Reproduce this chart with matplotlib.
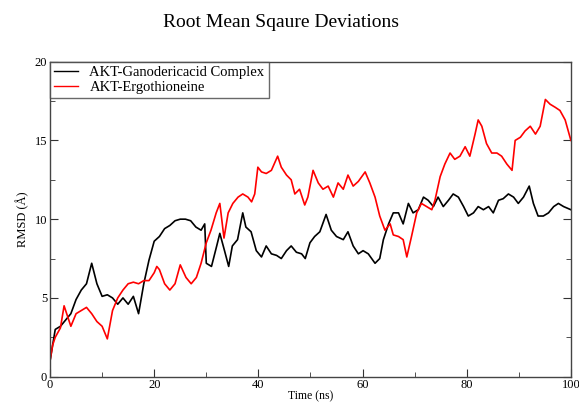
import numpy as np
import matplotlib
matplotlib.use("Agg")
import matplotlib.pyplot as plt
from matplotlib.ticker import MultipleLocator

# data
t_gano = [0, 0.5, 1, 2, 3, 4, 5, 6, 7, 8, 9, 10, 11, 12, 13, 14, 15, 16, 17, 18,
          19, 20, 21, 22, 23, 24, 25, 26, 27, 28, 29, 29.7, 30, 31, 32, 32.6, 33.5,
          34.3, 35, 36, 37, 37.6, 38.6, 39.6, 40.6, 41.5, 42.5, 43.5, 44.4, 45.4,
          46.3, 47.3, 48.3, 49, 49.9, 50.8, 51.8, 53, 54, 55, 56.3, 57.2, 58.2,
          59.2, 60.1, 61.1, 62.4, 63.3, 64, 65, 65.9, 66.9, 67.8, 68.8, 69.7, 70.7,
          71.7, 72.6, 73.6, 74.5, 75.5, 76.5, 77.4, 78.4, 79.4, 80.3, 81.3, 82.2,
          83.2, 84.2, 85.1, 86.1, 87, 88, 89, 89.9, 90.9, 92, 92.8, 93.7, 94.7,
          95.7, 96.7, 97.6, 98.6, 100]
rmsd_gano = [1.0, 2.0, 3.0, 3.2, 3.6, 4.0, 4.9, 5.5, 5.9, 7.2, 5.9, 5.1, 5.2, 5.0,
             4.6, 5.0, 4.6, 5.1, 4.0, 5.9, 7.4, 8.6, 8.9, 9.4, 9.6, 9.9, 10.0, 10.0,
             9.9, 9.5, 9.3, 9.7, 7.2, 7.0, 8.3, 9.1, 8.0, 7.0, 8.3, 8.7, 10.4, 9.5,
             9.2, 8.0, 7.6, 8.3, 7.8, 7.7, 7.5, 8.0, 8.3, 7.9, 7.8, 7.5, 8.5, 8.9,
             9.2, 10.3, 9.3, 8.9, 8.7, 9.2, 8.3, 7.8, 8.0, 7.8, 7.2, 7.5, 8.7, 9.7,
             10.4, 10.4, 9.7, 11.0, 10.4, 10.6, 11.4, 11.2, 10.8, 11.4, 10.8, 11.2,
             11.6, 11.4, 10.8, 10.2, 10.4, 10.8, 10.6, 10.8, 10.4, 11.2, 11.3, 11.6,
             11.4, 11.0, 11.4, 12.1, 11.0, 10.2, 10.2, 10.4, 10.8, 11.0, 10.8, 10.6]

t_ergo = [0, 0.5, 1, 2, 2.7, 3, 4, 5, 6, 7, 8, 9, 10, 11, 12, 13, 14, 15, 16, 17,
          18, 19, 20, 20.5, 21, 22, 23, 24, 25, 26.1, 27.1, 28.1, 29, 30, 30.9,
          31.9, 32.6, 33.4, 34.2, 35.1, 36.1, 37, 38, 38.7, 39.3, 39.9, 40.6,
          41.5, 42.5, 43.7, 44.4, 45.4, 46.3, 47, 47.9, 48.9, 49.5, 50.5, 51.5,
          52.4, 53.4, 54.4, 55.3, 56.3, 57.2, 58.2, 59.2, 60.5, 61.4, 62.4, 63.3,
          64.3, 65.3, 65.9, 66.9, 67.8, 68.5, 69.4, 70.4, 71.3, 72.3, 73.3, 73.9,
          74.9, 75.8, 76.8, 77.7, 78.7, 79.7, 80.6, 81.6, 82.2, 82.9, 83.8, 84.8,
          85.8, 86.7, 87.7, 88.7, 89.3, 90.3, 91.2, 92.2, 93.2, 94.1, 95.1, 96,
          97, 97.9, 98.9, 100]
rmsd_ergo = [1.0, 2.0, 2.5, 3.1, 4.5, 4.2, 3.2, 4.0, 4.2, 4.4, 4.0, 3.5, 3.2, 2.4,
             4.2, 5.0, 5.5, 5.9, 6.0, 5.9, 6.1, 6.1, 6.6, 7.0, 6.8, 5.9, 5.5, 5.9,
             7.1, 6.3, 5.9, 6.3, 7.2, 8.5, 9.3, 10.4, 11.0, 8.8, 10.4, 11.0, 11.4,
             11.6, 11.4, 11.1, 11.6, 13.3, 13.0, 12.9, 13.1, 14.0, 13.3, 12.8, 12.5,
             11.6, 11.9, 10.9, 11.4, 13.1, 12.3, 11.9, 12.1, 11.4, 12.3, 11.9, 12.8,
             12.1, 12.4, 13.0, 12.3, 11.4, 10.2, 9.3, 9.7, 9.0, 8.9, 8.7, 7.6, 8.9,
             10.4, 11.0, 10.8, 10.6, 11.2, 12.7, 13.5, 14.2, 13.8, 14.0, 14.6, 14.0,
             15.4, 16.3, 15.9, 14.8, 14.2, 14.2, 14.0, 13.5, 13.1, 15.0, 15.2, 15.6,
             15.9, 15.4, 15.9, 17.6, 17.3, 17.1, 16.9, 16.3, 15.0]

labels = ["AKT-Ganodericacid Complex", "AKT-Ergothioneine"]

plt.rcParams['font.family'] = ['Liberation Serif', 'DejaVu Serif']

fig = plt.figure(figsize=(5.79, 4.03), dpi=100)
ax = fig.add_axes([0.0864, 0.0653, 0.8996, 0.7817])

ax.plot(t_gano, rmsd_gano, color='black', lw=1.2, label=labels[0])
ax.plot(t_ergo, rmsd_ergo, color='red', lw=1.2, label=labels[1])

ax.set_xlim(0, 100)
ax.set_ylim(0, 20)
ax.xaxis.set_major_locator(MultipleLocator(20))
ax.xaxis.set_minor_locator(MultipleLocator(10))
ax.yaxis.set_major_locator(MultipleLocator(5))
ax.yaxis.set_minor_locator(MultipleLocator(2.5))
ax.tick_params(which='both', direction='in', right=True, labelsize=9, colors='#333333',
               labelcolor='black', pad=2)
ax.tick_params(which='major', length=6)
ax.tick_params(which='minor', length=3.5)
for s in ax.spines.values():
    s.set_color('#444444')
    s.set_linewidth(1.0)

ax.set_xlabel("Time (ns)", fontsize=8.5, labelpad=-1)
ax.set_ylabel("RMSD (Å)", fontsize=9, labelpad=4)
fig.text(0.486, 0.945, "Root Mean Sqaure Deviations", ha='center', va='center', fontsize=14)

leg = ax.legend(loc='upper left', borderaxespad=0, fontsize=10.5, fancybox=False,
                handlelength=1.6, handletextpad=0.8, borderpad=0.3, labelspacing=0.1)
leg.get_frame().set_edgecolor('#444444')
leg.get_frame().set_linewidth(1.0)
for line in leg.get_lines():
    line.set_linewidth(1.0)

fig.savefig("out.png", dpi=100)
